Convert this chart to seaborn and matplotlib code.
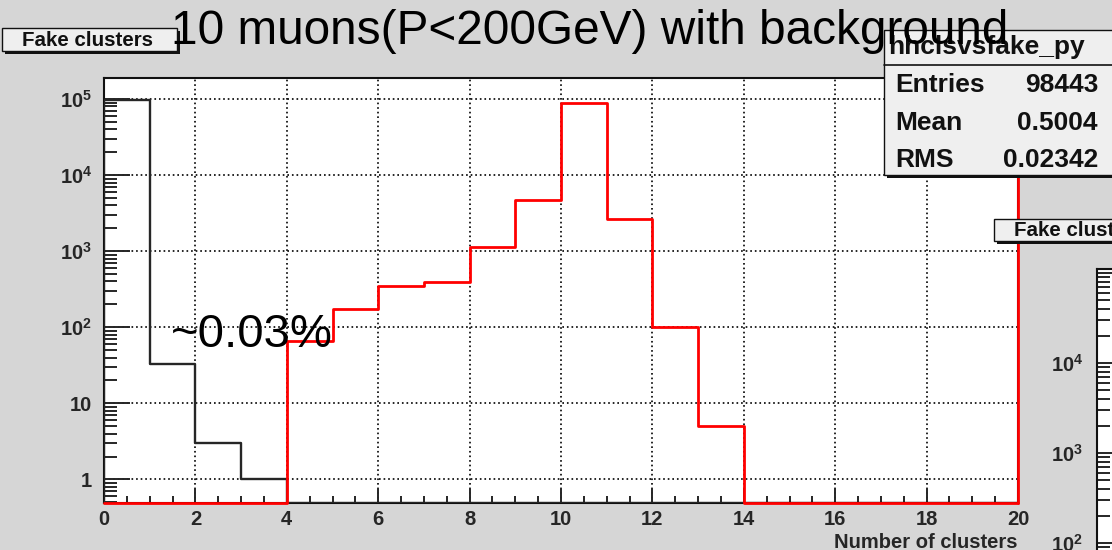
import numpy as np
import pandas as pd
import matplotlib
matplotlib.use("Agg")
import matplotlib.pyplot as plt
from matplotlib.patches import Rectangle
from matplotlib.lines import Line2D
from matplotlib.ticker import FixedLocator, FixedFormatter, MultipleLocator, LogLocator, NullFormatter
import seaborn as sns

# ---- histogram contents (unit-wide bins over [0, 20)) ----
bin_edges = np.arange(0, 21)
black_counts = [98407, 33, 3, 1, 0, 0, 0, 0, 0, 0, 0, 0, 0, 0, 0, 0, 0, 0, 0, 0]
red_counts = [0, 0, 0, 0, 66, 173, 345, 390, 1140, 4700, 89600, 2630, 100, 5, 0, 0, 0, 0, 0, 0]

x_ticks = [0, 2, 4, 6, 8, 10, 12, 14, 16, 18, 20]
y_ticks = [1, 10, 1e2, 1e3, 1e4, 1e5]
y_tick_labels = ["1", "10", r"$\mathbf{10}^{\mathbf{2}}$", r"$\mathbf{10}^{\mathbf{3}}$",
                 r"$\mathbf{10}^{\mathbf{4}}$", r"$\mathbf{10}^{\mathbf{5}}$"]
side_y_ticks = [1e2, 1e3, 1e4, 1e5]
side_y_labels = [r"$\mathbf{10}^{\mathbf{2}}$", r"$\mathbf{10}^{\mathbf{3}}$",
                 r"$\mathbf{10}^{\mathbf{4}}$", ""]

title = "10 muons(P<200GeV) with background"
hist_title = "Fake clusters"
stats_name = "hhclsvsfake_py"
stats_rows = [("Entries", "98443"), ("Mean", "0.5004"), ("RMS", "0.02342")]
note = "~0.03%"
x_label = "Number of clusters"

# ---- style ----
sns.set_style("white")
plt.rcParams["font.family"] = ["Liberation Sans", "DejaVu Sans"]
plt.rcParams["mathtext.fontset"] = "custom"
plt.rcParams["mathtext.rm"] = "Liberation Sans"
plt.rcParams["mathtext.bf"] = "Liberation Sans:bold"

W, H = 1112, 550
BG = "#d6d6d6"
BOX = "#efefef"
RED = "#ff0000"
DARK = "#262626"
INK = "#111111"

fig = plt.figure(figsize=(W / 100, H / 100), dpi=100)
fig.patch.set_facecolor(BG)


def fx(px):
    return px / W


def fy(py):
    return 1 - py / H


def step_frame(edges, counts, floor):
    vals = np.where(np.asarray(counts, dtype=float) > 0, counts, floor)
    xs = np.concatenate([[edges[0]], np.repeat(edges, 2)[1:-1], [edges[-1]]])
    ys = np.concatenate([[floor], np.repeat(vals, 2), [floor]])
    return pd.DataFrame({"x": xs, "y": ys})


def root_box(x0, y0, x1, y1, shadow=3):
    # ROOT-style pave: flat fill, thin border, dark drop shadow
    fig.add_artist(Rectangle((fx(x0 + shadow), fy(y1 + shadow)), fx(x1 - x0), (y1 - y0) / H,
                             transform=fig.transFigure, facecolor=INK,
                             edgecolor="none", zorder=1))
    fig.add_artist(Rectangle((fx(x0), fy(y1)), fx(x1 - x0), (y1 - y0) / H,
                             transform=fig.transFigure, facecolor=BOX,
                             edgecolor=INK, lw=1.0, zorder=1.1))


def style_log_axis(a, pad):
    a.yaxis.set_minor_locator(LogLocator(base=10, subs=np.arange(2, 10), numticks=30))
    a.yaxis.set_minor_formatter(NullFormatter())
    a.tick_params(axis="y", which="major", direction="in", length=19, width=1.4,
                  pad=pad, labelsize=14.5, left=True, right=False)
    a.tick_params(axis="y", which="minor", direction="in", length=9.5, width=1.4,
                  left=True, right=False)
    for lab in a.get_yticklabels():
        lab.set_fontweight("bold")
    for sp in a.spines.values():
        sp.set_color(INK)
        sp.set_linewidth(1.5)


# ---- main frame ----
ymin, ymax = 0.491, 1.89e5
ax = fig.add_axes([fx(104), fy(503), fx(914), 425 / H])
ax.set_facecolor("white")
ax.set_yscale("log")
ax.set_xlim(bin_edges[0], bin_edges[-1])
ax.set_ylim(ymin, ymax)
ax.set_axisbelow(True)

sns.lineplot(data=step_frame(bin_edges, black_counts, ymin), x="x", y="y",
             sort=False, estimator=None, color=DARK, lw=1.7, ax=ax, zorder=3)
sns.lineplot(data=step_frame(bin_edges, red_counts, ymin), x="x", y="y",
             sort=False, estimator=None, color=RED, lw=2.0, ax=ax, zorder=4,
             clip_on=False)
ax.axvline(bin_edges[-1], color=RED, lw=2.0, zorder=4, clip_on=False)

ax.grid(True, which="major", color="black", linestyle=(0, (1, 1.75)), lw=1.2)

ax.xaxis.set_major_locator(FixedLocator(x_ticks))
ax.xaxis.set_minor_locator(MultipleLocator(0.5))
ax.yaxis.set_major_locator(FixedLocator(y_ticks))
ax.yaxis.set_major_formatter(FixedFormatter(y_tick_labels))

ax.tick_params(axis="x", which="major", direction="in", length=10, width=1.4,
               pad=5, labelsize=14.5, bottom=True, top=False)
ax.tick_params(axis="x", which="minor", direction="in", length=5, width=1.4,
               bottom=True, top=False)
style_log_axis(ax, 8.5)
for lab in ax.get_xticklabels():
    lab.set_fontweight("bold")

ax.set_xlabel(x_label, loc="right", fontsize=14.5, fontweight="bold", labelpad=3)
ax.set_ylabel("")

# ---- neighbouring pad, cut by the right border ----
ax2 = fig.add_axes([fx(1097), fy(700), fx(300), (700 - 269) / H])
ax2.set_facecolor("white")
ax2.set_yscale("log")
ax2.set_ylim(10 ** 0.256, 10 ** 5.044)
ax2.set_xlim(0, 1)
ax2.xaxis.set_visible(False)
ax2.yaxis.set_major_locator(FixedLocator(side_y_ticks))
ax2.yaxis.set_major_formatter(FixedFormatter(side_y_labels))
style_log_axis(ax2, 10)

# ---- title paves ----
root_box(2, 28, 177, 51)
fig.text(fx(87), fy(40), hist_title, ha="center", va="center", fontsize=14.8,
         fontweight="bold", color=INK, zorder=2)

root_box(994, 219, 1140, 241)
fig.text(fx(1014), fy(230), hist_title, ha="left", va="center", fontsize=14.8,
         fontweight="bold", color=INK, zorder=2)

# ---- statistics pave ----
root_box(884, 30, 1140, 175)
fig.add_artist(Line2D([fx(884), fx(1140)], [fy(65), fy(65)], transform=fig.transFigure,
                      color=INK, lw=1.2, zorder=1.2))
fig.text(fx(888), fy(47), stats_name, ha="left", va="center", fontsize=19,
         fontweight="bold", color=INK, zorder=2)
for i, (name, value) in enumerate(stats_rows):
    yb = 92 + 37.5 * i
    fig.text(fx(895), fy(yb), name, ha="left", va="baseline", fontsize=19,
             fontweight="bold", color=INK, zorder=2)
    fig.text(fx(1098), fy(yb), value, ha="right", va="baseline", fontsize=19,
             fontweight="bold", color=INK, zorder=2)

# ---- large annotations ----
fig.text(fx(590), fy(44), title, ha="center", va="baseline", fontsize=34.4,
         color="black", zorder=5)
fig.text(fx(171), fy(347), note, ha="left", va="baseline", fontsize=34,
         color="black", zorder=5)

fig.savefig("out.png", dpi=100, facecolor=fig.get_facecolor())
